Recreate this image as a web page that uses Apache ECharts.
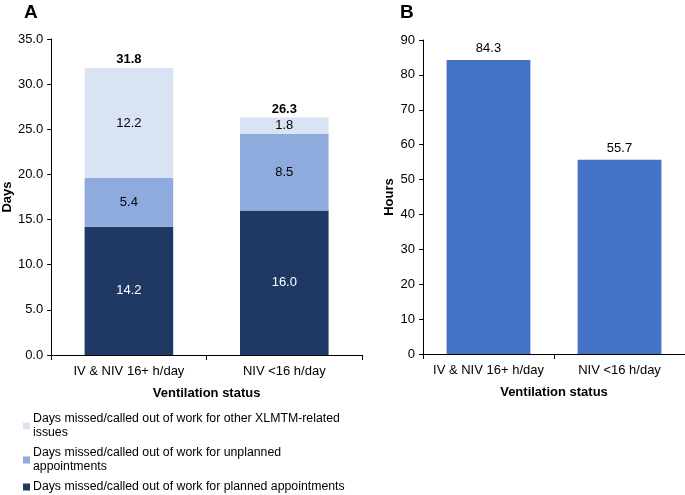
<!DOCTYPE html>
<html>
<head>
<meta charset="utf-8">
<script src="https://cdn.jsdelivr.net/npm/echarts@6/dist/echarts.min.js"></script>
<style>
  html,body{margin:0;padding:0;background:#fff;}
  #c{width:685px;height:495px;}
</style>
</head>
<body>
<div id="c"></div>
<script>
const cats = ['IV & NIV 16+ h/day', 'NIV <16 h/day'];
const planned = [14.2, 16.0];
const unplanned = [5.4, 8.5];
const other = [12.2, 1.8];
const hours = [84.3, 55.7];

const nPlanned = 'Days missed/called out of work for planned appointments';
const nUnplanned = 'Days missed/called out of work for unplanned appointments';
const nOther = 'Days missed/called out of work for other XLMTM-related issues';
const wrapped = {};
wrapped[nOther] = 'Days missed/called out of work for other XLMTM-related\nissues';
wrapped[nUnplanned] = 'Days missed/called out of work for unplanned\nappointments';
wrapped[nPlanned] = nPlanned;

// total on top of each stack
const totals = cats.map((c,i)=>+(planned[i]+unplanned[i]+other[i]).toFixed(1));

const FONT = 'Liberation Sans, Arial, sans-serif';
const axisTxt = {color:'#000', fontSize:13, fontFamily:FONT};
const line = {show:true, lineStyle:{color:'#000', width:1}};
const tick = {show:true, length:5, lineStyle:{color:'#000'}};
const nameTxt = {fontSize:13, fontWeight:'bold', color:'#000', fontFamily:FONT};

const c = echarts.init(document.getElementById('c'));
c.setOption({
  animation:false,
  textStyle:{fontFamily:FONT},
  title:[
    {text:'A', left:19, top:-2, textStyle:{fontSize:19, fontWeight:'bold', color:'#000', fontFamily:FONT}},
    {text:'B', left:395, top:-2, textStyle:{fontSize:19, fontWeight:'bold', color:'#000', fontFamily:FONT}}
  ],
  legend:{
    orient:'vertical', left:23, top:412, padding:0, itemWidth:7, itemHeight:7, itemGap:6,
    data:[nOther, nUnplanned, nPlanned],
    formatter:n=>wrapped[n],
    textStyle:{fontSize:12.3, color:'#000', fontFamily:FONT, lineHeight:14, padding:[0,0,0,-2]},
    icon:'rect', selectedMode:false
  },
  grid:[
    {left:50, top:39, width:312, height:316},
    {left:423, top:40, width:262, height:314}
  ],
  xAxis:[
    {type:'category', gridIndex:0, data:cats, axisLine:line, axisTick:tick,
     axisLabel:Object.assign({margin:10, interval:0}, axisTxt),
     name:'Ventilation status', nameLocation:'middle', nameGap:32, nameTextStyle:nameTxt},
    {type:'category', gridIndex:1, data:cats, axisLine:line, axisTick:tick,
     axisLabel:Object.assign({margin:10, interval:0}, axisTxt),
     name:'Ventilation status', nameLocation:'middle', nameGap:32, nameTextStyle:nameTxt}
  ],
  yAxis:[
    {type:'value', gridIndex:0, min:0, max:35, interval:5, splitLine:{show:false},
     axisLine:line, axisTick:Object.assign({}, tick, {length:4}),
     axisLabel:Object.assign({formatter:v=>v.toFixed(1), margin:8}, axisTxt),
     name:'Days', nameLocation:'middle', nameGap:37, nameTextStyle:nameTxt},
    {type:'value', gridIndex:1, min:0, max:90, interval:10, splitLine:{show:false},
     axisLine:line, axisTick:Object.assign({}, tick, {length:4}),
     axisLabel:Object.assign({margin:8}, axisTxt),
     name:'Hours', nameLocation:'middle', nameGap:27, nameTextStyle:nameTxt}
  ],
  series:[
    {name:nPlanned, type:'bar', stack:'a', xAxisIndex:0, yAxisIndex:0, data:planned, barWidth:'57%',
     itemStyle:{color:'#203864'},
     label:{show:true, position:'inside', color:'#fff', fontSize:13, formatter:p=>p.value.toFixed(1)}},
    {name:nUnplanned, type:'bar', stack:'a', xAxisIndex:0, yAxisIndex:0, data:unplanned,
     itemStyle:{color:'#8FAADC'},
     label:{show:true, position:'inside', color:'#000', fontSize:13, formatter:p=>p.value.toFixed(1)}},
    {name:nOther, type:'bar', stack:'a', xAxisIndex:0, yAxisIndex:0, data:other,
     itemStyle:{color:'#DAE3F3'},
     label:{show:true, position:'inside', color:'#000', fontSize:13, formatter:p=>p.value.toFixed(1)}},
    {name:'Total', type:'bar', stack:'a', xAxisIndex:0, yAxisIndex:0, data:totals.map(()=>0),
     itemStyle:{color:'rgba(0,0,0,0)'},
     label:{show:true, position:'top', distance:2, color:'#000', fontSize:13, fontWeight:'bold',
            formatter:p=>totals[p.dataIndex].toFixed(1)}},
    {name:'Hours', type:'bar', xAxisIndex:1, yAxisIndex:1, data:hours, barWidth:'64%',
     itemStyle:{color:'#4472C4'},
     label:{show:true, position:'top', distance:5, color:'#000', fontSize:13, formatter:p=>p.value.toFixed(1)}}
  ]
});
</script>
</body>
</html>
